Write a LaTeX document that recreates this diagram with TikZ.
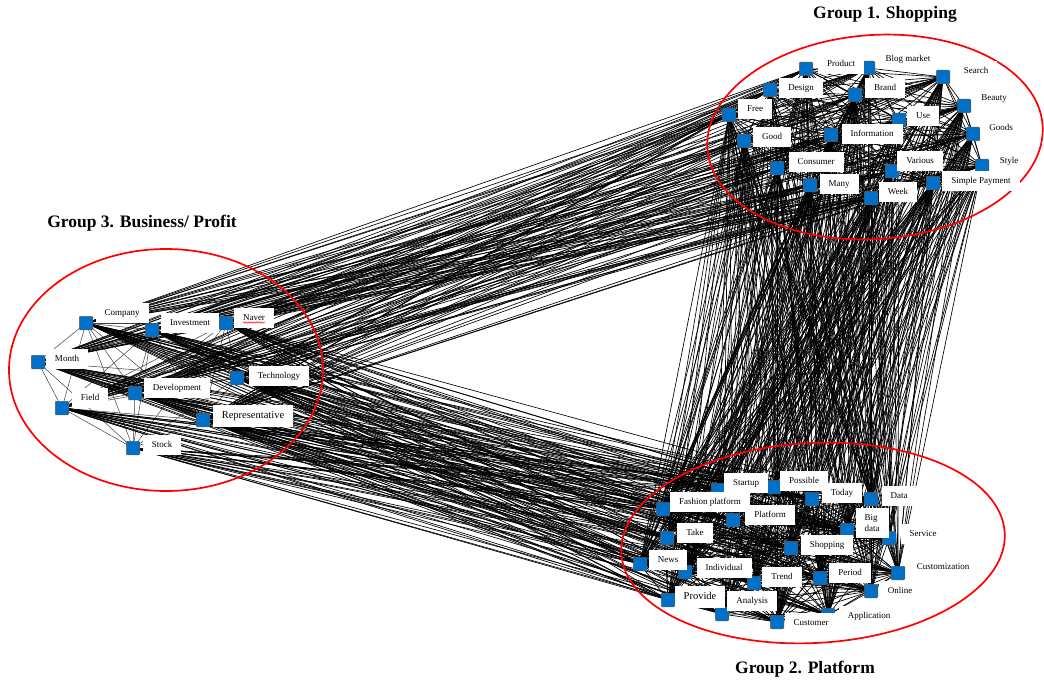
\documentclass[tikz,border=0pt]{standalone}
\usepackage{fontspec}
\setmainfont{Liberation Serif}
\usetikzlibrary{decorations.pathmorphing}
\definecolor{nodeblue}{RGB}{0,112,200}
\pgfdeclarelayer{bg}
\pgfdeclarelayer{mid}
\pgfdeclarelayer{fg}
\pgfsetlayers{bg,mid,main,fg}
\begin{document}
\begin{tikzpicture}[x=1pt,y=-1pt,
  sq/.style={draw=black!65, fill=nodeblue, minimum size=13.5pt, inner sep=0pt, line width=0.5pt, rounded corners=1pt},
  lab/.style={fill=white, font=\fontsize{9}{10}\selectfont, inner xsep=9pt, inner ysep=6pt, text height=6.3pt, text depth=1.9pt},
  biglab/.style={lab, font=\fontsize{10.5}{12}\selectfont, text height=7.3pt, text depth=2.2pt},
  edge/.style={line width=0.65pt, black},
  grp/.style={draw=red, line width=1.7pt},
  ttl/.style={font=\bfseries\fontsize{17.5}{20}\selectfont},
  wavy/.style={draw=red, line width=0.5pt, decorate, decoration={snake, amplitude=0.7pt, segment length=2.6pt}}]
\useasboundingbox (0,0) rectangle (1044,682);

% ---------- Group 1 squares ----------
\node[sq] (a1) at (806,69) {};
\node[sq] (a2) at (868,68) {};
\node[sq] (a3) at (943,77) {};
\node[sq] (a4) at (770,90) {};
\node[sq] (a5) at (855,95) {};
\node[sq] (a6) at (964,106) {};
\node[sq] (a7) at (729,115) {};
\node[sq] (a8) at (899,120) {};
\node[sq] (a9) at (973,134) {};
\node[sq] (a10) at (744,141) {};
\node[sq] (a11) at (831,135) {};
\node[sq] (a12) at (777,168) {};
\node[sq] (a13) at (892,171) {};
\node[sq] (a14) at (982,166) {};
\node[sq] (a15) at (810,185) {};
\node[sq] (a16) at (933,183) {};
\node[sq] (a17) at (871,198) {};

% ---------- Group 2 squares ----------
\node[sq] (b1) at (718,490) {};
\node[sq] (b2) at (774,487) {};
\node[sq] (b3) at (812,499) {};
\node[sq] (b4) at (871,499) {};
\node[sq] (b5) at (663,509) {};
\node[sq] (b6) at (733,520) {};
\node[sq] (b7) at (847,530) {};
\node[sq] (b8) at (889,538) {};
\node[sq] (b9) at (667,538) {};
\node[sq] (b10) at (791,548) {};
\node[sq] (b11) at (640,564) {};
\node[sq] (b12) at (685,572) {};
\node[sq] (b13) at (898,573) {};
\node[sq] (b14) at (754,583) {};
\node[sq] (b15) at (820,578) {};
\node[sq] (b16) at (871,591) {};
\node[sq] (b17) at (668,600) {};
\node[sq] (b18) at (722,614) {};
\node[sq] (b19) at (828,615) {};
\node[sq] (b20) at (777,622) {};

% ---------- Group 3 squares ----------
\node[sq] (c1) at (86,323) {};
\node[sq] (c2) at (152,330) {};
\node[sq] (c3) at (226,323) {};
\node[sq] (c4) at (38,362) {};
\node[sq] (c5) at (237,378) {};
\node[sq] (c6) at (135,393) {};
\node[sq] (c7) at (62,408) {};
\node[sq] (c8) at (203,420) {};
\node[sq] (c9) at (133,448) {};

% ---------- connectors ----------
\begin{pgfonlayer}{bg}
\foreach \i in {1,...,17}{\foreach \j in {\i,...,17}{\draw[edge] (a\i.center) -- (a\j.center);}}
\foreach \i in {1,...,20}{\foreach \j in {\i,...,20}{\draw[edge] (b\i.center) -- (b\j.center);}}
\foreach \i in {1,...,9}{\foreach \j in {\i,...,9}{\draw[edge, black!75, line width=0.5pt] (c\i.center) -- (c\j.center);}}
\foreach \i in {1,...,17}{\foreach \j in {1,...,20}{\draw[edge] (a\i.center) -- (b\j.center);}}
\foreach \i in {1,...,8}{\foreach \j in {1,...,17}{\draw[edge] (c\i.center) -- (a\j.center);}}
\foreach \i in {1,...,9}{\foreach \j in {1,...,20}{\draw[edge] (c\i.center) -- (b\j.center);}}
\end{pgfonlayer}

% ---------- group ellipses ----------
\begin{pgfonlayer}{mid}
\draw[grp, rotate around={4:(875,137)}] (875,137) ellipse [x radius=168pt, y radius=102pt];
\draw[grp, rotate around={3:(813,543)}] (813,543) ellipse [x radius=192pt, y radius=100pt];
\draw[grp] (166,370) ellipse [x radius=157pt, y radius=121pt];
\end{pgfonlayer}

% ---------- labels ----------
\begin{pgfonlayer}{fg}
\node[lab] (a1l) at (841,64) {Product};
\node[lab] (a2l) at (908,59) {Blog market};
\node[lab] (a3l) at (976,71) {Search};
\node[lab] (a4l) at (801,88) {Design};
\node[lab] (a5l) at (885,88) {Brand};
\node[lab] (a6l) at (994,98) {Beauty};
\node[lab] (a7l) at (755,109) {Free};
\node[lab] (a8l) at (923,116) {Use};
\node[lab] (a9l) at (1001,128) {Goods};
\node[lab] (a10l) at (772,137) {Good};
\node[lab] (a11l) at (872,134) {Information};
\node[lab] (a12l) at (816,162) {Consumer};
\node[lab] (a13l) at (920,161) {Various};
\node[lab] (a14l) at (1009,161) {Style};
\node[lab] (a15l) at (839,184) {Many};
\node[lab] (a16l) at (981,181) {Simple Payment};
\node[lab] (a17l) at (898,192) {Week};

\node[lab] (b1l) at (746,483) {Startup};
\node[lab] (b2l) at (804,481) {Possible};
\node[lab] (b3l) at (842,493) {Today};
\node[lab] (b4l) at (899,496) {Data};
\node[lab] (b5l) at (710,502) {Fashion platform};
\node[lab] (b6l) at (770,515) {Platform};
\node[lab, text height=, text depth=, align=left, font=\fontsize{9}{11}\selectfont] (b7l) at (872,523) {Big\\data};
\node[lab] (b8l) at (923,534) {Service};
\node[lab] (b9l) at (695,533) {Take};
\node[lab] (b10l) at (827,545) {Shopping};
\node[lab] (b11l) at (668,560) {News};
\node[lab] (b12l) at (724,568) {Individual};
\node[lab] (b13l) at (943,567) {Customization};
\node[lab] (b14l) at (782,577) {Trend};
\node[lab] (b15l) at (850,573) {Period};
\node[lab] (b16l) at (900,591) {Online};
\node[biglab] (b17l) at (700,597) {Provide};
\node[lab] (b18l) at (752,601) {Analysis};
\node[lab] (b19l) at (869,616) {Application};
\node[lab] (b20l) at (811,623) {Customer};

\node[lab] (c1l) at (122,313) {Company};
\node[lab] (c2l) at (190,323) {Investment};
\node[lab] (c3l) at (254,318) {Naver};
\node[lab] (c4l) at (67,359) {Month};
\node[lab] (c5l) at (279,376) {Technology};
\node[lab] (c6l) at (177,388) {Development};
\node[lab] (c7l) at (90,398) {Field};
\node[biglab] (c8l) at (253,416) {Representative};
\node[lab] (c9l) at (162,445) {Stock};
\draw[wavy] ([xshift=9pt,yshift=-2.3pt]c3l.base west) -- ([xshift=-9pt,yshift=-2.3pt]c3l.base east);

% ---------- titles ----------
\node[ttl] (t1) at (885,14) {Group 1. Shopping};
\node[ttl] (t2) at (142,223) {Group 3. Business/ Profit};
\node[ttl] (t3) at (805,669) {Group 2. Platform};
\end{pgfonlayer}
\end{tikzpicture}
\end{document}
